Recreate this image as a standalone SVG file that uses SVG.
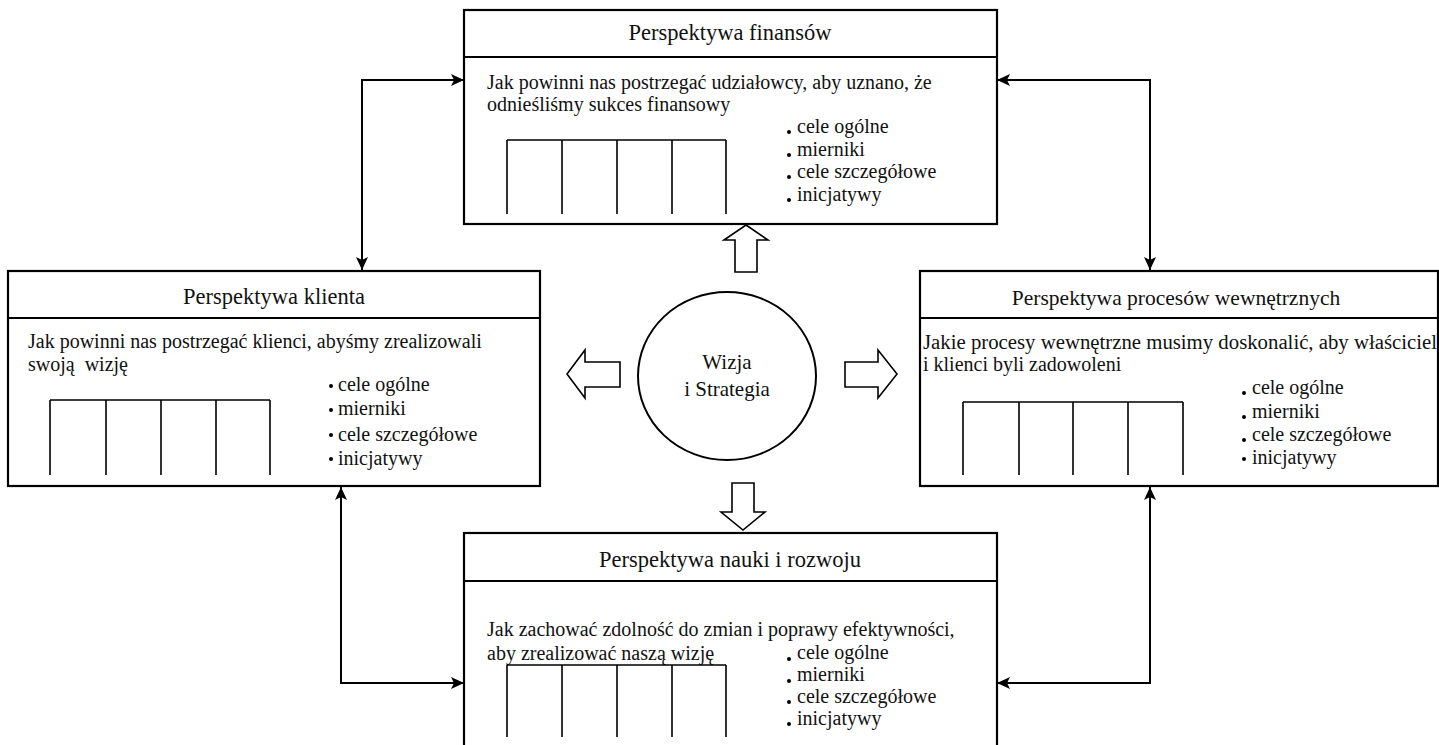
<svg xmlns="http://www.w3.org/2000/svg" width="1439" height="745" viewBox="0 0 1439 745">
  <style>
    text { font-family: "Liberation Serif", "Times New Roman", serif; fill: #111; }
    .title { font-size: 22.5px; text-anchor: middle; }
    .body { font-size: 20px; }
    .item { font-size: 20px; }
    .frame { fill: #fff; stroke: #000; stroke-width: 2.2; }
    .divider { stroke: #000; stroke-width: 2.2; fill: none; }
    .grid { stroke: #000; stroke-width: 1.6; fill: none; }
    .dot { fill: #000; }
    .link { stroke: #000; stroke-width: 2; fill: none; marker-start: url(#tip); marker-end: url(#tip); }
    .block { fill: #fff; stroke: #000; stroke-width: 1.6; stroke-linejoin: miter; }
    .hub { fill: #fff; stroke: #000; stroke-width: 2; }
  </style>
  <defs>
    <marker id="tip" markerUnits="userSpaceOnUse" markerWidth="14" markerHeight="12" refX="13" refY="6" orient="auto-start-reverse">
      <path d="M0,0 L13,6 L0,12 L3,6 z" fill="#000"/>
    </marker>
  </defs>

  <rect width="1439" height="745" fill="#fff"/>

  <!-- two-way links between neighbouring perspectives -->
  <g id="connectors">
    <path class="link" d="M464,80 H362 V270"/>
    <path class="link" d="M997,80 H1150 V270"/>
    <path class="link" d="M341,487 V683 H464"/>
    <path class="link" d="M1150,487 V683 H997"/>
  </g>

  <!-- finance perspective -->
  <g id="finanse">
    <rect class="frame" x="464" y="10" width="533" height="214"/>
    <line class="divider" x1="464" y1="57" x2="997" y2="57"/>
    <text class="title" x="730" y="40">Perspektywa finansów</text>
    <text class="body" x="487" y="89">Jak powinni nas postrzegać udziałowcy, aby uznano, że</text>
    <text class="body" x="487" y="111">odnieśliśmy sukces finansowy</text>
    <path class="grid" d="M507,140 H726 M507,140 V214 M562,140 V214 M617,140 V214 M672,140 V214 M726,140 V214"/>
    <circle class="dot" cx="789" cy="132" r="2"/>
    <circle class="dot" cx="789" cy="155" r="2"/>
    <circle class="dot" cx="789" cy="177" r="2"/>
    <circle class="dot" cx="789" cy="200" r="2"/>
    <text class="item" x="797" y="133">cele ogólne</text>
    <text class="item" x="797" y="156">mierniki</text>
    <text class="item" x="797" y="178">cele szczegółowe</text>
    <text class="item" x="797" y="201">inicjatywy</text>
  </g>

  <!-- customer perspective -->
  <g id="klient">
    <rect class="frame" x="8" y="271" width="532" height="215"/>
    <line class="divider" x1="8" y1="318" x2="540" y2="318"/>
    <text class="title" x="274" y="304">Perspektywa klienta</text>
    <text class="body" x="28" y="348">Jak powinni nas postrzegać klienci, abyśmy zrealizowali</text>
    <text class="body" x="28" y="371" xml:space="preserve">swoją  wizję</text>
    <path class="grid" d="M50,400 H270 M50,400 V475 M106,400 V475 M161,400 V475 M216,400 V475 M270,400 V475"/>
    <circle class="dot" cx="331" cy="386" r="2"/>
    <circle class="dot" cx="331" cy="410" r="2"/>
    <circle class="dot" cx="331" cy="435" r="2"/>
    <circle class="dot" cx="331" cy="459" r="2"/>
    <text class="item" x="338" y="391">cele ogólne</text>
    <text class="item" x="338" y="415">mierniki</text>
    <text class="item" x="338" y="441">cele szczegółowe</text>
    <text class="item" x="338" y="465">inicjatywy</text>
  </g>

  <!-- internal processes perspective -->
  <g id="procesy">
    <rect class="frame" x="920" y="271" width="518" height="215"/>
    <line class="divider" x1="920" y1="318" x2="1438" y2="318"/>
    <text class="title" x="1176" y="305" style="font-size:21.5px">Perspektywa procesów wewnętrznych</text>
    <text class="body" x="923" y="349" textLength="514" lengthAdjust="spacingAndGlyphs">Jakie procesy wewnętrzne musimy doskonalić, aby właściciel</text>
    <text class="body" x="923" y="371">i klienci byli zadowoleni</text>
    <path class="grid" d="M963,402 H1183 M963,402 V475 M1019,402 V475 M1073,402 V475 M1128,402 V475 M1183,402 V475"/>
    <circle class="dot" cx="1244" cy="393" r="2"/>
    <circle class="dot" cx="1244" cy="417" r="2"/>
    <circle class="dot" cx="1244" cy="440" r="2"/>
    <circle class="dot" cx="1244" cy="459" r="2"/>
    <text class="item" x="1252" y="394">cele ogólne</text>
    <text class="item" x="1252" y="418">mierniki</text>
    <text class="item" x="1252" y="441">cele szczegółowe</text>
    <text class="item" x="1252" y="464">inicjatywy</text>
  </g>

  <!-- learning and growth perspective -->
  <g id="rozwoj">
    <rect class="frame" x="464" y="533" width="533" height="230"/>
    <line class="divider" x1="464" y1="581" x2="997" y2="581"/>
    <text class="title" x="730" y="567">Perspektywa nauki i rozwoju</text>
    <text class="body" x="487" y="636">Jak zachować zdolność do zmian i poprawy efektywności,</text>
    <text class="body" x="487" y="660">aby zrealizować naszą wizję</text>
    <path class="grid" d="M507,665 H726 M507,665 V737 M562,665 V737 M617,665 V737 M672,665 V737 M726,665 V737"/>
    <circle class="dot" cx="789" cy="659" r="2"/>
    <circle class="dot" cx="789" cy="681" r="2"/>
    <circle class="dot" cx="789" cy="702" r="2"/>
    <circle class="dot" cx="789" cy="724" r="2"/>
    <text class="item" x="797" y="659">cele ogólne</text>
    <text class="item" x="797" y="681">mierniki</text>
    <text class="item" x="797" y="703">cele szczegółowe</text>
    <text class="item" x="797" y="725">inicjatywy</text>
  </g>

  <!-- vision and strategy hub with outward block arrows -->
  <g id="wizja">
    <ellipse class="hub" cx="727" cy="376" rx="89" ry="84"/>
    <text class="title" x="727" y="369" style="font-size:21px">Wizja</text>
    <text class="title" x="727" y="396" style="font-size:21px">i Strategia</text>
    <polygon class="block" points="746,225 768,240 757,240 757,272 735,272 735,240 724,240"/>
    <polygon class="block" points="732,483 754,483 754,512 765,512 743,530 721,512 732,512"/>
    <polygon class="block" points="567,374 585,350 585,362 620,362 620,387 585,387 585,398"/>
    <polygon class="block" points="845,362 878,362 878,350 897,374 878,398 878,387 845,387"/>
  </g>
</svg>
